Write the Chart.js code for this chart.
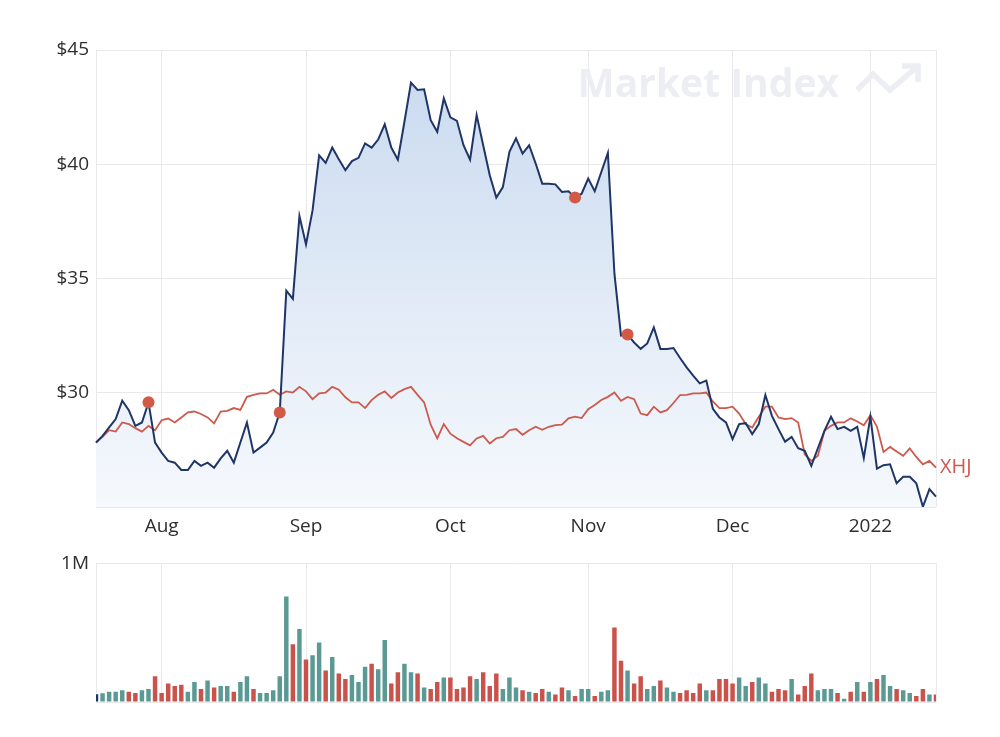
<!DOCTYPE html>
<html>
<head>
<meta charset="utf-8">
<script src="https://cdn.jsdelivr.net/npm/chart.js@4"></script>
<style>
  html, body { margin: 0; padding: 0; background: #fff; }
  #wrap { position: relative; width: 1000px; height: 737px; }
  #price-box { position: absolute; left: 0; top: 0; width: 1000px; height: 545px; }
  #volume-box { position: absolute; left: 0; top: 545px; width: 1000px; height: 192px; }
</style>
</head>
<body>
<div id="wrap">
  <div id="price-box"><canvas id="price-chart"></canvas></div>
  <div id="volume-box"><canvas id="volume-chart"></canvas></div>
</div>
<script>
// Data
const dates = [
  "2021-07-19", "2021-07-20", "2021-07-21", "2021-07-22", "2021-07-23", "2021-07-26", "2021-07-27", "2021-07-28", "2021-07-29", "2021-07-30",
  "2021-08-02", "2021-08-03", "2021-08-04", "2021-08-05", "2021-08-06", "2021-08-09", "2021-08-10", "2021-08-11", "2021-08-12", "2021-08-13",
  "2021-08-16", "2021-08-17", "2021-08-18", "2021-08-19", "2021-08-20", "2021-08-23", "2021-08-24", "2021-08-25", "2021-08-26", "2021-08-27",
  "2021-08-30", "2021-08-31",
  "2021-09-01", "2021-09-02", "2021-09-03", "2021-09-06", "2021-09-07", "2021-09-08", "2021-09-09", "2021-09-10", "2021-09-13", "2021-09-14",
  "2021-09-15", "2021-09-16", "2021-09-17", "2021-09-20", "2021-09-21", "2021-09-22", "2021-09-23", "2021-09-24", "2021-09-27", "2021-09-28",
  "2021-09-29", "2021-09-30",
  "2021-10-01", "2021-10-04", "2021-10-05", "2021-10-06", "2021-10-07", "2021-10-08", "2021-10-11", "2021-10-12", "2021-10-13", "2021-10-14",
  "2021-10-15", "2021-10-18", "2021-10-19", "2021-10-20", "2021-10-21", "2021-10-22", "2021-10-25", "2021-10-26", "2021-10-27", "2021-10-28",
  "2021-10-29",
  "2021-11-01", "2021-11-02", "2021-11-03", "2021-11-04", "2021-11-05", "2021-11-08", "2021-11-09", "2021-11-10", "2021-11-11", "2021-11-12",
  "2021-11-15", "2021-11-16", "2021-11-17", "2021-11-18", "2021-11-19", "2021-11-22", "2021-11-23", "2021-11-24", "2021-11-25", "2021-11-26",
  "2021-11-29", "2021-11-30",
  "2021-12-01", "2021-12-02", "2021-12-03", "2021-12-06", "2021-12-07", "2021-12-08", "2021-12-09", "2021-12-10", "2021-12-13", "2021-12-14",
  "2021-12-15", "2021-12-16", "2021-12-17", "2021-12-20", "2021-12-21", "2021-12-22", "2021-12-23", "2021-12-24", "2021-12-29", "2021-12-30",
  "2021-12-31",
  "2022-01-04", "2022-01-05", "2022-01-06", "2022-01-07", "2022-01-10", "2022-01-11", "2022-01-12", "2022-01-13", "2022-01-14", "2022-01-17",
  "2022-01-18",
];

const closePrice = [
  27.82, 28.11, 28.48, 28.85, 29.65, 29.24, 28.55, 28.70, 29.58, 27.82,
  27.38, 27.02, 26.94, 26.62, 26.62, 27.02, 26.80, 26.94, 26.72, 27.13,
  27.46, 26.94, 27.82, 28.70, 27.38, 27.60, 27.82, 28.26, 29.14, 34.47,
  34.11, 37.73, 36.49, 37.98, 40.39, 40.06, 40.73, 40.22, 39.74, 40.14,
  40.28, 40.91, 40.73, 41.08, 41.75, 40.73, 40.20, 41.86, 43.57, 43.25,
  43.28, 41.93, 41.42, 42.88, 42.05, 41.90, 40.83, 40.20, 42.15, 40.83,
  39.52, 38.54, 39.00, 40.54, 41.13, 40.47, 40.83, 40.03, 39.15, 39.15,
  39.12, 38.79, 38.82, 38.54, 38.71, 39.37, 38.82, 39.66, 40.50, 35.21,
  32.50, 32.55, 32.20, 31.92, 32.16, 32.86, 31.92, 31.92, 31.96, 31.52,
  31.11, 30.75, 30.41, 30.53, 29.30, 28.92, 28.70, 27.97, 28.63, 28.67,
  28.19, 28.63, 29.90, 28.99, 28.41, 27.86, 28.07, 27.57, 27.46, 26.80,
  27.57, 28.33, 28.95, 28.41, 28.51, 28.33, 28.51, 27.14, 28.95, 26.68,
  26.83, 26.87, 26.04, 26.32, 26.32, 26.04, 25.01, 25.78, 25.45,
];

// XHJ sector index, rebased to the share price
const xhjIndex = [
  27.82, 28.07, 28.36, 28.30, 28.70, 28.63, 28.45, 28.30, 28.55, 28.36,
  28.80, 28.87, 28.70, 28.92, 29.14, 29.18, 29.07, 28.92, 28.66, 29.18,
  29.21, 29.33, 29.25, 29.82, 29.91, 29.97, 29.97, 30.13, 29.91, 30.06,
  30.01, 30.26, 30.06, 29.72, 29.97, 30.01, 30.26, 30.13, 29.80, 29.58,
  29.58, 29.33, 29.68, 29.91, 30.06, 29.77, 30.01, 30.16, 30.26, 29.91,
  29.58, 28.60, 28.00, 28.63, 28.21, 28.01, 27.85, 27.70, 28.00, 28.11,
  27.78, 28.01, 28.07, 28.36, 28.41, 28.16, 28.36, 28.51, 28.38, 28.51,
  28.58, 28.60, 28.88, 28.95, 28.89, 29.28, 29.46, 29.68, 29.82, 30.01,
  29.65, 29.82, 29.72, 29.09, 29.02, 29.39, 29.14, 29.24, 29.55, 29.90,
  29.91, 29.97, 29.97, 30.01, 29.62, 29.33, 29.33, 29.39, 29.09, 28.63,
  28.48, 28.95, 29.39, 29.39, 28.92, 28.85, 28.89, 28.70, 27.31, 27.02,
  27.24, 28.33, 28.55, 28.70, 28.70, 28.88, 28.74, 28.58, 29.02, 28.52,
  27.41, 27.63, 27.43, 27.24, 27.56, 27.19, 26.87, 27.02, 26.72,
];

// Volume in thousands of shares
const volumeK = [
  56, 63, 74, 74, 84, 74, 65, 84, 94, 185,
  65, 134, 115, 124, 74, 145, 94, 155, 105, 115,
  115, 74, 145, 185, 94, 65, 65, 84, 185, 761,
  417, 527, 306, 337, 429, 227, 325, 206, 166, 194,
  145, 255, 276, 236, 447, 134, 215, 276, 215, 206,
  105, 94, 145, 176, 176, 94, 105, 185, 166, 215,
  115, 206, 94, 176, 105, 84, 74, 65, 94, 74,
  54, 105, 84, 44, 94, 94, 44, 74, 84, 538,
  297, 227, 134, 185, 94, 115, 155, 105, 74, 65,
  84, 65, 134, 84, 84, 166, 166, 134, 176, 115,
  145, 176, 134, 74, 94, 84, 166, 54, 115, 206,
  84, 94, 94, 65, 23, 74, 145, 74, 145, 166,
  194, 115, 94, 84, 65, 44, 94, 54, 54,
];

// Announcement markers on the price line
const announcementDates = ["2021-07-29", "2021-08-26", "2021-10-28", "2021-11-09"];

// Month ticks
const tickDates = ["2021-08-02", "2021-09-01", "2021-10-01", "2021-11-01", "2021-12-01", "2022-01-04"];
const tickLabels = ["Aug", "Sep", "Oct", "Nov", "Dec", "2022"];

const priceTicks = [25, 30, 35, 40, 45];
const volumeMaxK = 1000;

// Styles
const NAVY = "#1f3566";
const RED_LINE = "#cc5a4d";
const MARKER = "#d05a45";
const UP = "#5b9a94";
const DOWN = "#c9534a";
const GRID = "#e9e9ec";
const TEXT = "#2e2e2e";
const FONT = "'Open Sans', 'DejaVu Sans', sans-serif";
const WATERMARK = "#eceef4";
const TICK_SIZE = 19;

Chart.defaults.font.family = FONT;
Chart.defaults.color = TEXT;

function gridColor(ctx) {
  if (!ctx.tick) return "rgba(0,0,0,0)";
  const i = ctx.tick.value;
  if (i === dates.length - 1 || tickDates.includes(dates[i])) {
    return GRID;
  }
  return "rgba(0,0,0,0)";
}

function monthTick(value) {
  const k = tickDates.indexOf(dates[value]);
  return k >= 0 ? tickLabels[k] : "";
}

const announcementData = dates.map((d, i) =>
  announcementDates.includes(d) ? closePrice[i] : null,
);

function fillGradient(ctx) {
  const area = ctx.chart.chartArea;
  if (!area) return "rgba(200,216,238,0.6)";
  const g = ctx.chart.ctx.createLinearGradient(0, area.top, 0, area.bottom);
  g.addColorStop(0, "#c8d9ef");
  g.addColorStop(1, "#f6f9fd");
  return g;
}

// Plugins
const watermarkPlugin = {
  id: "watermark",
  beforeDatasetsDraw(chart) {
    const { ctx, chartArea } = chart;
    ctx.save();
    ctx.fillStyle = WATERMARK;
    ctx.strokeStyle = WATERMARK;
    ctx.font = "bold 39px 'Open Sans', sans-serif";
    ctx.textAlign = "right";
    ctx.textBaseline = "alphabetic";
    ctx.fillText("Market Index", chartArea.right - 97, chartArea.top + 47);

    const r = chartArea.right;
    const t = chartArea.top;
    ctx.lineWidth = 5.5;
    ctx.lineJoin = "miter";
    ctx.lineCap = "butt";
    ctx.beginPath();
    ctx.moveTo(r - 79, t + 40);
    ctx.lineTo(r - 63, t + 24);
    ctx.lineTo(r - 46, t + 40);
    ctx.lineTo(r - 18, t + 16);
    ctx.stroke();
    ctx.beginPath();
    ctx.moveTo(r - 34, t + 16);
    ctx.lineTo(r - 18, t + 16);
    ctx.lineTo(r - 18, t + 32);
    ctx.stroke();
    ctx.restore();
  },
};

const seriesLabelPlugin = {
  id: "seriesLabel",
  afterDatasetsDraw(chart) {
    const meta = chart.getDatasetMeta(0);
    const last = meta.data[meta.data.length - 1];
    if (!last) return;
    const { ctx } = chart;
    ctx.save();
    ctx.fillStyle = RED_LINE;
    ctx.font = "20px " + FONT;
    ctx.textAlign = "left";
    ctx.textBaseline = "middle";
    ctx.fillText("XHJ", last.x + 4, last.y);
    ctx.restore();
  },
};

// Price chart
new Chart(document.getElementById("price-chart"), {
  type: "line",
  data: {
    labels: dates,
    datasets: [
      {
        label: "XHJ",
        data: xhjIndex,
        borderColor: RED_LINE,
        borderWidth: 1.8,
        pointRadius: 0,
        fill: false,
        tension: 0,
        order: 3,
      },
      {
        label: "Price",
        data: closePrice,
        borderColor: NAVY,
        borderWidth: 2,
        pointRadius: 0,
        fill: "start",
        backgroundColor: fillGradient,
        tension: 0,
        order: 2,
      },
      {
        label: "Announcements",
        data: announcementData,
        showLine: false,
        pointRadius: 6,
        pointBackgroundColor: MARKER,
        pointBorderWidth: 0,
        order: 1,
      },
    ],
  },
  options: {
    responsive: true,
    maintainAspectRatio: false,
    animation: false,
    layout: { padding: { top: 50, right: 64, bottom: 0, left: 0 } },
    plugins: {
      legend: { display: false },
      tooltip: { enabled: false },
      filler: { drawTime: "beforeDatasetsDraw" },
    },
    scales: {
      x: {
        type: "category",
        offset: false,
        grid: { color: gridColor, drawTicks: false },
        border: { display: false },
        ticks: {
          autoSkip: false,
          maxRotation: 0,
          minRotation: 0,
          padding: 8,
          font: { size: TICK_SIZE },
          color: TEXT,
          callback: monthTick,
        },
        afterFit(scale) {
          scale.height = 38;
        },
      },
      y: {
        min: priceTicks[0],
        max: priceTicks[priceTicks.length - 1],
        afterBuildTicks(scale) {
          scale.ticks = priceTicks.map((v) => ({ value: v }));
        },
        grid: { color: GRID, drawTicks: false },
        border: { color: GRID },
        ticks: {
          padding: 7,
          font: { size: TICK_SIZE },
          color: TEXT,
          callback: (v) => (v === priceTicks[0] ? "" : "$" + v),
        },
        afterFit(scale) {
          scale.width = 96;
        },
      },
    },
  },
  plugins: [watermarkPlugin, seriesLabelPlugin],
});

// Volume chart
new Chart(document.getElementById("volume-chart"), {
  type: "bar",
  data: {
    labels: dates,
    datasets: [
      {
        label: "Volume",
        data: volumeK,
        backgroundColor: (ctx) => {
          const i = ctx.dataIndex;
          if (i === 0) return NAVY;
          return closePrice[i] >= closePrice[i - 1] ? UP : DOWN;
        },
        barPercentage: 0.68,
        categoryPercentage: 1,
      },
    ],
  },
  options: {
    responsive: true,
    maintainAspectRatio: false,
    animation: false,
    layout: { padding: { top: 15, right: 64, bottom: 35, left: 0 } },
    plugins: {
      legend: { display: false },
      tooltip: { enabled: false },
    },
    scales: {
      x: {
        type: "category",
        offset: false,
        grid: { color: gridColor, drawTicks: false, offset: false },
        border: { display: false },
        ticks: { display: false },
        afterFit(scale) {
          scale.height = 0;
        },
      },
      y: {
        min: 0,
        max: volumeMaxK,
        afterBuildTicks(scale) {
          scale.ticks = [{ value: 0 }, { value: volumeMaxK }];
        },
        grid: { color: GRID, drawTicks: false },
        border: { color: GRID },
        ticks: {
          padding: 7,
          font: { size: TICK_SIZE },
          color: TEXT,
          callback: (v) => (v === volumeMaxK ? "1M" : ""),
        },
        afterFit(scale) {
          scale.width = 96;
        },
      },
    },
  },
});
</script>
</body>
</html>
